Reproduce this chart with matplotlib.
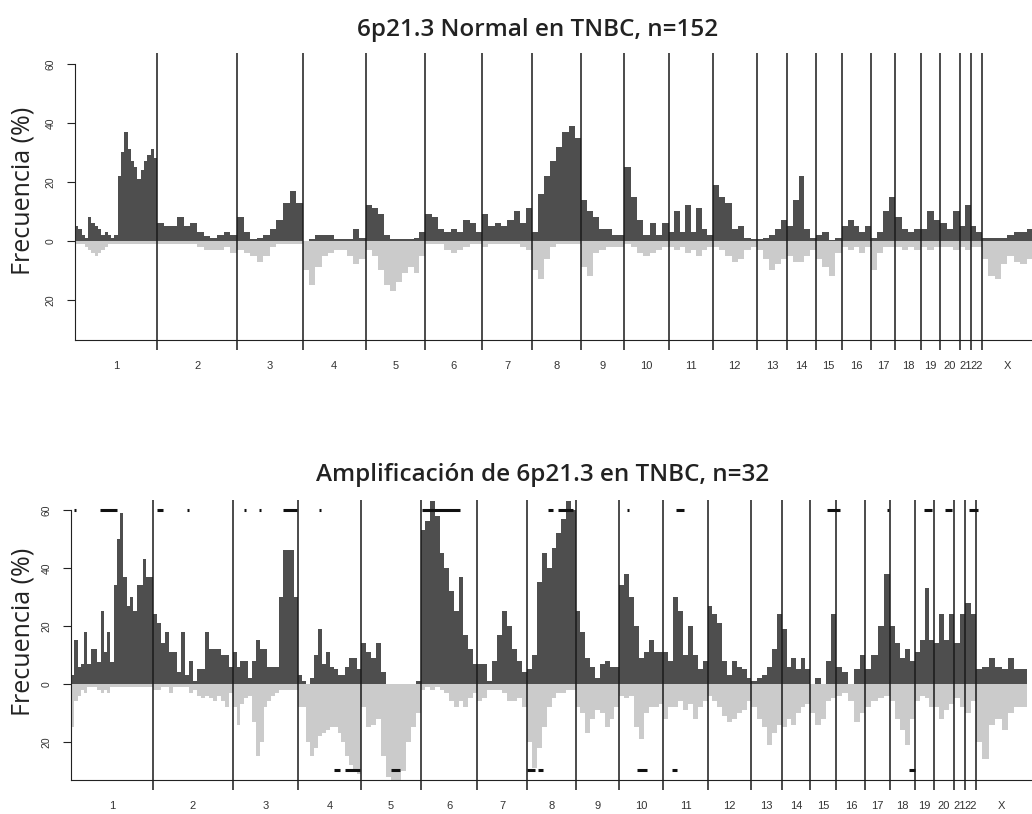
import matplotlib
matplotlib.use('Agg')
import matplotlib.pyplot as plt
import numpy as np

# Chromosomes and the lengths (Mb) covered by the array
chrom_names = [str(i) for i in range(1, 23)] + ['X']
chrom_len = [249, 242, 199, 191, 181, 172, 152, 146, 133, 134, 134, 133,
             93, 85, 80, 88, 74, 77, 58, 60, 34, 33, 155]

# Panel 1: 6p21.3 normal, n=152 -- gain / loss frequency (%) per bin, one list per chromosome
normal_gain = [
    [5, 4, 2, 1, 8, 6, 5, 4, 2, 3, 2, 1, 2, 22, 30, 37, 31, 27, 25, 21, 24, 27, 29, 31, 28],
    [6, 5, 5, 8, 5, 6, 3, 1.5, 1, 2, 3, 2],
    [8, 3, 0.5, 1, 2, 4, 7, 13, 17, 13],
    [0, 0.5, 2, 2, 2, 0.5, 0.5, 0.5, 4, 1],
    [12, 11, 9, 2, 0.5, 0.5, 0.5, 0.5, 1, 3],
    [9, 8, 4, 3, 4, 3, 7, 6, 3],
    [9, 5, 6, 5, 7, 10, 6, 11],
    [3, 16, 22, 27, 32, 37, 39, 35],
    [14, 10, 8, 4, 4, 2, 2],
    [25, 15, 7, 2, 6, 2, 6],
    [3, 10, 3, 12, 3, 11, 4, 2],
    [19, 15, 13, 4, 5, 1, 0.5],
    [0.5, 1, 2, 4, 7],
    [5, 14, 22, 4, 1],
    [2, 3, 0.3, 1],
    [5, 7, 5, 3, 5],
    [1, 3, 10, 15],
    [8, 4, 3, 4],
    [4, 10, 7],
    [6, 4, 10],
    [5, 12],
    [5, 3],
    [1, 1, 1, 1, 2, 3, 3, 4],
]
normal_loss = [
    [1, 1, 1, 2, 3, 4, 5, 4, 3, 2, 1, 1, 1, 1, 1, 1, 1, 1, 1, 1, 1, 1, 1, 1, 1],
    [1, 1, 1, 1, 1, 1, 2, 3, 3, 3, 2, 4],
    [3, 4, 5, 7, 5, 2, 1, 1, 1, 1],
    [10, 15, 9, 5, 4, 3, 3, 5, 8, 6],
    [3, 5, 10, 15, 17, 14, 11, 9, 11, 5],
    [1, 1, 1, 3, 4, 3, 2, 1, 1],
    [2, 1, 1, 1, 1, 1, 2, 3],
    [10, 13, 6, 2, 1, 1, 1, 1],
    [9, 12, 4, 3, 2, 2, 2],
    [1, 2, 4, 5, 4, 3, 2],
    [2, 3, 2, 4, 3, 5, 3, 2],
    [2, 3, 5, 7, 6, 3, 2],
    [3, 6, 10, 8, 6],
    [5, 7, 7, 5, 3],
    [6, 9, 12, 4],
    [2, 3, 2, 4, 2],
    [10, 4, 2, 2],
    [2, 3, 2, 3],
    [2, 3, 2],
    [2, 2, 3],
    [2, 3],
    [2, 2],
    [6, 12, 13, 8, 5, 7, 8, 6],
]

# Panel 2: 6p21.3 amplified, n=32
amp_gain = [
    [3, 15, 6, 7, 18, 7, 12, 12, 7.5, 25, 11, 18, 7.5, 34, 50, 59, 37, 27, 30, 25, 34, 34, 43, 37, 37],
    [24, 21, 14, 18, 11, 11, 4, 18, 3, 8, 1, 5, 5, 18, 12, 12, 12, 10, 10, 6],
    [11, 6, 8, 8, 2, 8, 15, 12, 12, 6, 6, 6, 30, 46, 46, 46, 30],
    [3, 1, 0, 2, 10, 19, 7, 11, 6, 5, 3, 3, 6, 9, 9, 5],
    [14, 11, 9, 14, 4, 0, 0, 0, 0, 0, 0, 1],
    [53, 56, 63, 58, 45, 40, 32, 25, 37, 17, 12, 7],
    [7, 7, 1, 8, 17, 25, 20, 12, 8, 4],
    [5, 10, 35, 45, 40, 47, 52, 57, 63, 60],
    [25, 18, 9, 6, 2, 7, 8, 6, 6],
    [34, 38, 30, 20, 9, 11, 15, 11, 11],
    [11, 8, 30, 25, 10, 20, 10, 5, 8],
    [27, 24, 21, 8, 3, 8, 6, 5, 2],
    [1, 2, 3, 6, 12, 24],
    [19, 6, 9, 5, 9, 5],
    [0, 2, 0, 8, 24],
    [6, 4, 0, 5, 10],
    [5, 10, 20, 38],
    [20, 14, 9, 12, 8],
    [11, 15, 33, 15],
    [14, 24, 15, 24],
    [14, 24],
    [28, 24],
    [5, 6, 9, 6, 5, 9, 5, 5],
]
amp_loss = [
    [15, 6, 4, 2, 3, 1, 1, 1, 2, 3, 2, 3, 1, 1, 1, 1, 1, 1, 1, 1, 1, 1, 1, 1, 1],
    [2, 2, 1, 1, 3, 1, 1, 1, 1, 3, 2, 4, 5, 4, 5, 6, 4, 6, 8, 3],
    [8, 14, 7, 5, 4, 13, 25, 20, 8, 6, 4, 3, 2, 2, 2, 2, 2],
    [8, 8, 20, 25, 22, 18, 17, 16, 15, 15, 17, 20, 25, 28, 30, 31],
    [8, 15, 14, 12, 25, 32, 33, 33, 30, 20, 15, 10],
    [2, 1, 2, 1, 2, 3, 6, 8, 6, 8, 5, 3],
    [6, 5, 2, 2, 2, 3, 6, 6, 5, 8],
    [20, 29, 22, 15, 8, 5, 3, 3, 2, 2],
    [8, 10, 17, 12, 9, 10, 15, 12, 8],
    [4, 5, 4, 15, 19, 10, 8, 8, 7],
    [12, 8, 8, 6, 9, 7, 12, 8, 6],
    [4, 6, 8, 11, 13, 12, 10, 9, 6],
    [8, 12, 15, 21, 17, 14],
    [15, 12, 14, 10, 8, 7],
    [10, 14, 12, 6, 5],
    [4, 3, 6, 13, 10],
    [8, 6, 5, 4],
    [6, 12, 16, 21, 12],
    [6, 4, 5, 8],
    [8, 12, 9, 7],
    [5, 8],
    [10, 6],
    [20, 26, 14, 12, 16, 10, 8, 8],
]

# Significant regions (genome Mb start, end) marked in panel 2
amp_sig_gain = [(9, 16), (88, 140), (261, 279), (353, 359), (525, 531), (571, 577),
                (644, 686), (753, 759), (1066, 1181), (1449, 1464), (1479, 1524),
                (1688, 1694), (1837, 1861), (2296, 2335), (2478, 2484), (2590, 2615),
                (2654, 2675), (2727, 2754)]
amp_sig_loss = [(799, 817), (832, 878), (972, 999), (1385, 1409), (1418, 1433),
                (1719, 1749), (1825, 1840), (2545, 2563)]

GAIN_COL = '#4e4e4e'
LOSS_COL = '#cbcbcb'
TXT_COL = '#333333'
TICK_FONT = 'Liberation Sans'

starts = np.concatenate([[0], np.cumsum(chrom_len)[:-1]])
ends = np.cumsum(chrom_len)
centers = starts + np.array(chrom_len) / 2.0


def draw_panel(ax, gain, loss, xmax, ylo, yhi, line_lo):
    for s, L, g, l in zip(starts, chrom_len, gain, loss):
        g = np.asarray(g, dtype=float)
        w = L / len(g)
        ax.bar(s + np.arange(len(g)) * w, g, width=w, align='edge',
               color=GAIN_COL, linewidth=0)
        l = np.asarray(l, dtype=float)
        w = L / len(l)
        ax.bar(s + np.arange(len(l)) * w, -l, width=w, align='edge',
               color=LOSS_COL, linewidth=0)

    # chromosome separators
    ax.vlines(ends[:-1], line_lo, yhi, color='#1a1a1a', lw=1.1, clip_on=False)

    ax.set_xlim(0, xmax)
    ax.set_ylim(ylo, yhi)
    for side in ['top', 'right']:
        ax.spines[side].set_visible(False)
    ax.spines['left'].set_bounds(ylo, 60)
    ax.spines['left'].set_color('#222222')
    ax.spines['bottom'].set_color('#222222')

    ax.set_yticks([60, 40, 20, 0, -20])
    ax.set_yticklabels(['60', '40', '20', '0', '20'], rotation=90, va='center',
                       fontsize=7.5, family=TICK_FONT, color=TXT_COL)
    ax.tick_params(axis='y', length=6, width=0.8, pad=8, colors='#222222',
                   labelcolor=TXT_COL)

    ax.set_xticks(centers)
    ax.set_xticklabels(chrom_names, fontsize=8, family=TICK_FONT, color=TXT_COL)
    ax.tick_params(axis='x', length=0, pad=15)

    ax.set_ylabel('Frecuencia (%)', fontsize=18, family='Open Sans',
                  color='#222222')


fig = plt.figure(figsize=(10.32, 8.14), dpi=100)

ax1 = fig.add_axes([75 / 1032, 1 - 340 / 814, 957 / 1032, 287 / 814])
draw_panel(ax1, normal_gain, normal_loss, 2900, -33.6, 63.7, -37)
ax1.yaxis.set_label_coords(-0.041, 0.52)

ax2 = fig.add_axes([71 / 1032, 1 - 780 / 814, 961 / 1032, 280 / 814])
draw_panel(ax2, amp_gain, amp_loss, 2918, -33.1, 63.4, -36.6)
ax2.yaxis.set_label_coords(-0.037, 0.53)
sg_start = [a for a, b in amp_sig_gain]
sg_end = [b for a, b in amp_sig_gain]
ax2.hlines(np.full(len(sg_start), 60.0), sg_start, sg_end, color='#111111', lw=2.2)
sl_start = [a for a, b in amp_sig_loss]
sl_end = [b for a, b in amp_sig_loss]
ax2.hlines(np.full(len(sl_start), -29.7), sl_start, sl_end, color='#111111', lw=2.2)

fig.text(0.521, 1 - 30 / 814, '6p21.3 Normal en TNBC, n=152', ha='center',
         va='center', fontsize=17.5, family='Open Sans', weight='semibold',
         color='#222222')
fig.text(0.526, 1 - 475 / 814, 'Amplificación de 6p21.3 en TNBC, n=32',
         ha='center', va='center', fontsize=17.5, family='Open Sans',
         weight='semibold', color='#222222')

fig.savefig('out.png', dpi=100)
